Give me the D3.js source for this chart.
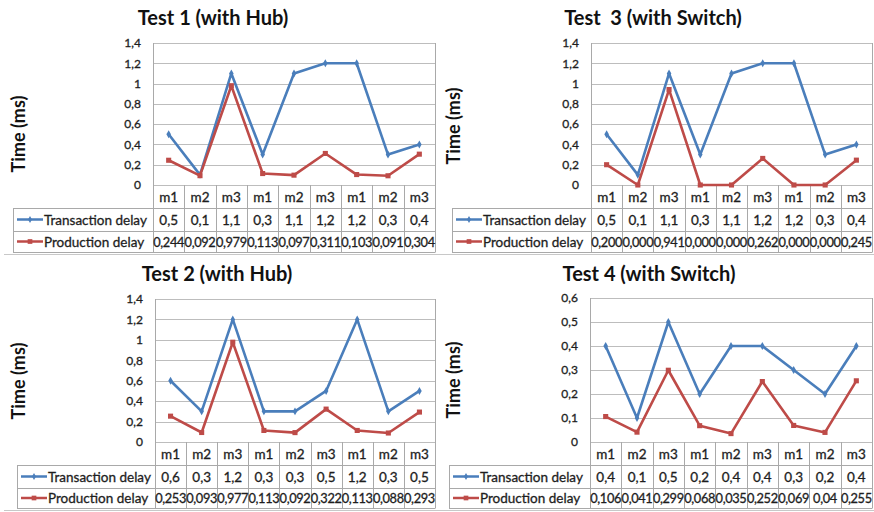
<!DOCTYPE html>
<html><head><meta charset="utf-8">
<script src="https://cdn.jsdelivr.net/npm/d3@7"></script>
<style>
html,body{margin:0;padding:0;background:#fff;}
svg{display:block;font-family:Lato,"Open Sans",sans-serif;}
</style></head>
<body><svg id="c" width="874" height="512"></svg>
<script>
// ---------- data ----------
const categories = ["m1","m2","m3","m1","m2","m3","m1","m2","m3"];
const seriesNames = ["Transaction delay","Production delay"];

const test1Transaction = [0.5,0.1,1.1,0.3,1.1,1.2,1.2,0.3,0.4];
const test1Production  = [0.244,0.092,0.979,0.113,0.097,0.311,0.103,0.091,0.304];
const test1TransLabels = ["0,5","0,1","1,1","0,3","1,1","1,2","1,2","0,3","0,4"];
const test1ProdLabels  = ["0,244","0,092","0,979","0,113","0,097","0,311","0,103","0,091","0,304"];

const test3Transaction = [0.5,0.1,1.1,0.3,1.1,1.2,1.2,0.3,0.4];
const test3Production  = [0.2,0,0.941,0,0,0.262,0,0,0.245];
const test3TransLabels = ["0,5","0,1","1,1","0,3","1,1","1,2","1,2","0,3","0,4"];
const test3ProdLabels  = ["0,200","0,000","0,941","0,000","0,000","0,262","0,000","0,000","0,245"];

const test2Transaction = [0.6,0.3,1.2,0.3,0.3,0.5,1.2,0.3,0.5];
const test2Production  = [0.253,0.093,0.977,0.113,0.092,0.322,0.113,0.088,0.293];
const test2TransLabels = ["0,6","0,3","1,2","0,3","0,3","0,5","1,2","0,3","0,5"];
const test2ProdLabels  = ["0,253","0,093","0,977","0,113","0,092","0,322","0,113","0,088","0,293"];

const test4Transaction = [0.4,0.1,0.5,0.2,0.4,0.4,0.3,0.2,0.4];
const test4Production  = [0.106,0.041,0.299,0.068,0.035,0.252,0.069,0.04,0.255];
const test4TransLabels = ["0,4","0,1","0,5","0,2","0,4","0,4","0,3","0,2","0,4"];
const test4ProdLabels  = ["0,106","0,041","0,299","0,068","0,035","0,252","0,069","0,04","0,255"];

const ticksA = [0,0.2,0.4,0.6,0.8,1,1.2,1.4];
const tickLabelsA = ["0","0,2","0,4","0,6","0,8","1","1,2","1,4"];
const ticksB = [0,0.1,0.2,0.3,0.4,0.5,0.6];
const tickLabelsB = ["0","0,1","0,2","0,3","0,4","0,5","0,6"];

// ---------- layout ----------
const panels = [
  {title:"Test 1 (with Hub)", trans:test1Transaction, prod:test1Production, tl:test1TransLabels, pl:test1ProdLabels,
   ticks:ticksA, tickLabels:tickLabelsA, max:1.4,
   left:153, right:435, top:43, bottom:185, r1:208, r2:231, r3:252, tableLeft:13, titleX:213, titleY:25, ylx:24, yly:134},
  {title:"Test  3 (with Switch)", trans:test3Transaction, prod:test3Production, tl:test3TransLabels, pl:test3ProdLabels,
   ticks:ticksA, tickLabels:tickLabelsA, max:1.4,
   left:591, right:872, top:43, bottom:185, r1:208, r2:231, r3:252, tableLeft:452, titleX:653, titleY:25, ylx:459, yly:126},
  {title:"Test 2 (with Hub)", trans:test2Transaction, prod:test2Production, tl:test2TransLabels, pl:test2ProdLabels,
   ticks:ticksA, tickLabels:tickLabelsA, max:1.4,
   left:155, right:435, top:299, bottom:442, r1:465, r2:488, r3:508, tableLeft:17, titleX:217, titleY:281, ylx:24, yly:381},
  {title:"Test 4 (with Switch)", trans:test4Transaction, prod:test4Production, tl:test4TransLabels, pl:test4ProdLabels,
   ticks:ticksB, tickLabels:tickLabelsB, max:0.6,
   left:590, right:872, top:298, bottom:442, r1:465, r2:488, r3:508, tableLeft:449, titleX:649, titleY:281, ylx:459, yly:380}
];

const BLUE = "#4A7EBB", RED = "#BE4B48", GRID = "#BDBDBD", BORDER = "#A9A9A9", TXT = "#1e1e1e";
const svg = d3.select("#c");

// panel separators
svg.append("line").attr("x1",4).attr("x2",874).attr("y1",254.5).attr("y2",254.5).attr("stroke","#C8C8C8");
svg.append("line").attr("x1",4).attr("x2",874).attr("y1",510.5).attr("y2",510.5).attr("stroke","#C8C8C8");

function heavy(sel, w) { return sel.attr("stroke", TXT).attr("stroke-width", w).attr("paint-order","stroke"); }

panels.forEach(p => {
  const g = svg.append("g");
  const x = d3.scaleBand().domain(d3.range(categories.length)).range([p.left, p.right]).padding(0);
  const y = d3.scaleLinear().domain([0, p.max]).range([p.bottom, p.top]);

  // title
  g.append("text").attr("x", p.titleX).attr("y", p.titleY).attr("text-anchor","middle")
    .attr("font-size", 20).attr("font-weight","bold").attr("fill","#111").style("white-space","pre").text(p.title);

  // y label
  g.append("text").attr("transform", `translate(${p.ylx + 1},${p.yly}) rotate(-90)`).attr("text-anchor","middle")
    .attr("font-size", 18).attr("font-weight","bold").attr("fill","#111").text("Time (ms)");

  // gridlines
  g.selectAll(".grid").data(p.ticks).join("line")
    .attr("x1", p.left).attr("x2", p.right)
    .attr("y1", d => Math.round(y(d))+0.5).attr("y2", d => Math.round(y(d))+0.5)
    .attr("stroke", GRID).attr("stroke-width",1);

  // y axis with tick labels
  const yAxis = d3.axisLeft(y).tickValues(p.ticks).tickFormat((d,i) => p.tickLabels[i]).tickSize(0).tickPadding(12);
  const ya = g.append("g").attr("transform", `translate(${p.left},0)`).call(yAxis);
  ya.select(".domain").remove();
  heavy(ya.selectAll("text").attr("font-size", 12).attr("font-family","Lato").attr("fill", TXT), 0.3);

  // table borders
  const b = g.append("g").attr("stroke", BORDER).attr("stroke-width",1);
  b.append("line").attr("x1",p.left+0.5).attr("x2",p.left+0.5).attr("y1",p.top).attr("y2",p.r3);
  d3.range(1, categories.length+1).forEach(i => {
    const xx = Math.round(p.left + i*x.bandwidth())+0.5;
    b.append("line").attr("x1",xx).attr("x2",xx).attr("y1",p.bottom).attr("y2",p.r3);
  });
  [p.r1, p.r2, p.r3].forEach(r => b.append("line").attr("x1",p.tableLeft).attr("x2",p.right+0.5).attr("y1",r+0.5).attr("y2",r+0.5));
  b.append("line").attr("x1",p.tableLeft+0.5).attr("x2",p.tableLeft+0.5).attr("y1",p.r1).attr("y2",p.r3);
  b.append("line").attr("x1",p.right+0.5).attr("x2",p.right+0.5).attr("y1",p.top).attr("y2",p.r3);

  // category labels (x axis)
  const xAxis = d3.axisBottom(x).tickFormat(i => categories[i]).tickSize(0).tickPadding(0);
  const xa = g.append("g").attr("transform", `translate(0,${p.bottom})`).call(xAxis);
  xa.select(".domain").remove();
  heavy(xa.selectAll("text").attr("font-size", 13.5).attr("font-family","Lato").attr("fill", TXT)
    .attr("dy", null).attr("y", (p.r1 - p.bottom)/2 + 5), 0.3);

  // value rows
  const rows = [
    {name: seriesNames[0], labels: p.tl, color: BLUE, y0: p.r1, y1: p.r2, marker: "diamond", fs: 13.5, ls: 0},
    {name: seriesNames[1], labels: p.pl, color: RED, y0: p.r2, y1: p.r3, marker: "square", fs: 12.8, ls: -0.35}
  ];
  rows.forEach(r => {
    const cy = (r.y0 + r.y1)/2;
    heavy(g.selectAll(null).data(r.labels).join("text")
      .attr("x", (d,i) => x(i) + x.bandwidth()/2).attr("y", cy + 5)
      .attr("text-anchor","middle").attr("font-size", r.fs).attr("letter-spacing", r.ls)
      .attr("fill", TXT).text(d => d), 0.3);
    const lx0 = p.tableLeft + 4, lx1 = p.tableLeft + 30;
    g.append("line").attr("x1", lx0).attr("x2", lx1).attr("y1", cy).attr("y2", cy)
      .attr("stroke", r.color).attr("stroke-width", 2.5);
    const sym = r.marker === "square" ? d3.symbolSquare : d3.symbolDiamond;
    g.append("path").attr("d", d3.symbol(sym, r.marker === "square" ? 22 : 14)())
      .attr("transform", `translate(${(lx0+lx1)/2},${cy})`).attr("fill", r.color);
    heavy(g.append("text").attr("x", lx1 + 1).attr("y", cy + 5).attr("font-size", 13.5).attr("fill", TXT).text(r.name), 0.3);
  });

  // series lines
  const series = [
    {vals: p.trans, color: BLUE, marker: d3.symbolDiamond, size: 18},
    {vals: p.prod, color: RED, marker: d3.symbolSquare, size: 26}
  ];
  const line = d3.line().x((d,i) => x(i) + x.bandwidth()/2).y(d => y(d));
  series.forEach(s => {
    g.append("path").datum(s.vals).attr("d", line).attr("fill","none")
      .attr("stroke", s.color).attr("stroke-width", 2.6).attr("stroke-linejoin","round");
    g.selectAll(null).data(s.vals).join("path")
      .attr("d", d3.symbol(s.marker, s.size)())
      .attr("transform", (d,i) => `translate(${x(i) + x.bandwidth()/2},${y(d)})`)
      .attr("fill", s.color);
  });
});
</script></body></html>
